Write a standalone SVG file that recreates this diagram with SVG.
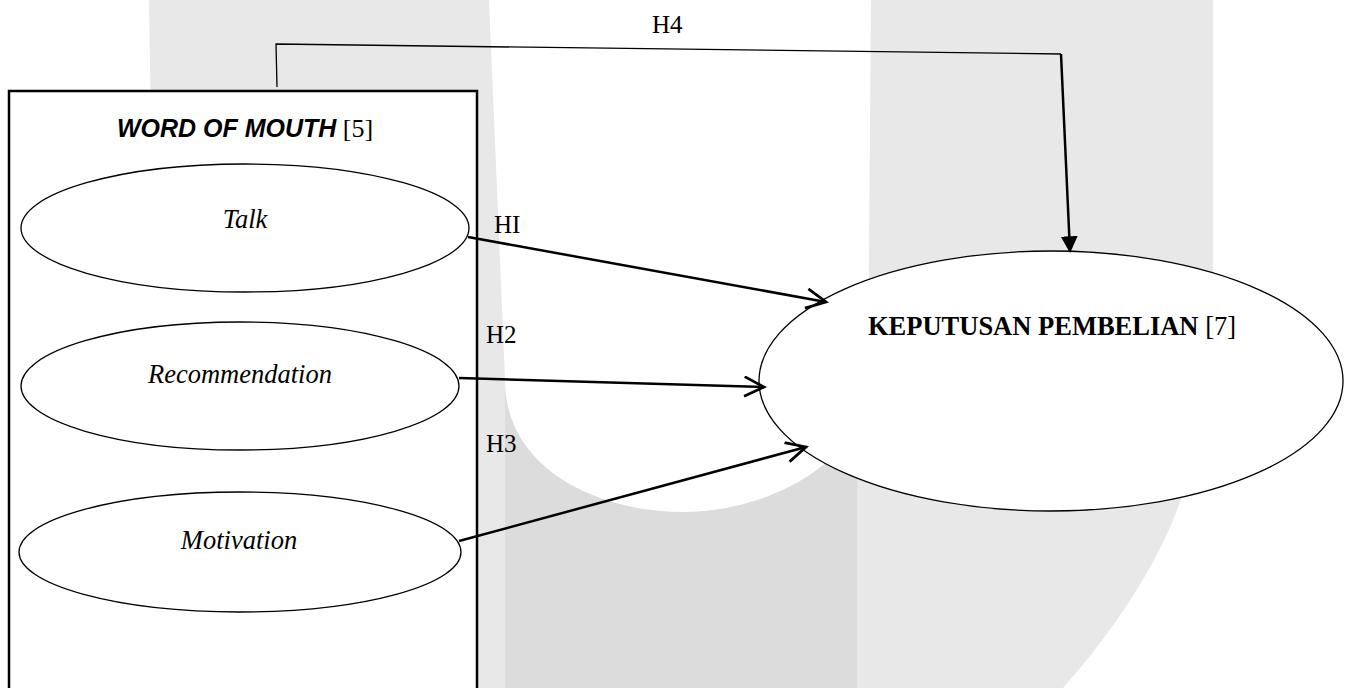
<svg xmlns="http://www.w3.org/2000/svg" width="1347" height="688" viewBox="0 0 1347 688">
  <style>
    .wm-light { fill: #e8e8e8; }
    .wm-dark { fill: #dcdcdc; }
    .node { fill: #ffffff; stroke: #000000; stroke-width: 1.3; }
    .box { fill: #ffffff; stroke: #000000; stroke-width: 2.5; }
    .serif { font-family: "Liberation Serif", "Times New Roman", serif; fill: #000000; }
    .it { font-style: italic; font-size: 26.5px; }
    .lbl { font-size: 25px; }
    .conn { fill: none; stroke: #000000; stroke-width: 2.5; }
    .thin { fill: none; stroke: #000000; stroke-width: 1.3; }
  </style>
  <defs>
    <marker id="open" markerUnits="userSpaceOnUse" markerWidth="24" markerHeight="24" viewBox="0 0 22 22" refX="19" refY="10" orient="auto">
      <path d="M1,1 L19,10 L1,19" fill="none" stroke="#000000" stroke-width="2.5"/>
    </marker>
    <marker id="filled" markerUnits="userSpaceOnUse" markerWidth="18" markerHeight="18" viewBox="0 0 16 16" refX="14" refY="7.5" orient="auto">
      <path d="M0,0 L15,7.5 L0,15 Z" fill="#000000"/>
    </marker>
  </defs>

  <rect width="1347" height="688" fill="#ffffff"/>

  <g id="watermark">
    <path class="wm-light" d="M149,0 L1213,0 L1213,300 C1213,400 1195,470 1180,502 C1160,560 1115,630 1063,688 L160,688 Z"/>
    <rect class="wm-dark" x="505" y="370" width="352" height="318"/>
    <path fill="#ffffff" d="M489,0 L871,0 L868,380 C868,460 770,512 683,512 C600,512 505,470 505,380 Z"/>
  </g>

  <g id="word-of-mouth">
    <rect class="box" x="9" y="91" width="468" height="620"/>
    <text x="245" y="137" text-anchor="middle" class="serif"><tspan font-family="'Liberation Sans', Arial, sans-serif" font-weight="bold" font-style="italic" font-size="25">WORD OF MOUTH</tspan><tspan font-size="26"> [5]</tspan></text>
  </g>

  <g id="talk">
    <ellipse class="node" cx="245" cy="228" rx="224" ry="64"/>
    <text x="245" y="228" text-anchor="middle" class="serif it">Talk</text>
  </g>

  <g id="recommendation">
    <ellipse class="node" cx="240" cy="386" rx="219" ry="64"/>
    <text x="240" y="383" text-anchor="middle" class="serif it">Recommendation</text>
  </g>

  <g id="motivation">
    <ellipse class="node" cx="240" cy="552" rx="221" ry="60"/>
    <text x="239" y="549" text-anchor="middle" class="serif it">Motivation</text>
  </g>

  <g id="keputusan-pembelian">
    <ellipse class="node" cx="1051" cy="381" rx="292" ry="130"/>
    <text x="1052" y="335" text-anchor="middle" class="serif" font-size="26.5"><tspan font-weight="bold">KEPUTUSAN PEMBELIAN</tspan> [7]</text>
  </g>

  <g id="connectors">
    <polyline class="thin" points="277,87 276,44 1061,54"/>
    <line class="conn" x1="1061" y1="54" x2="1070" y2="252" stroke-width="2" marker-end="url(#filled)"/>
    <line class="conn" x1="468" y1="237" x2="826" y2="302" marker-end="url(#open)"/>
    <line class="conn" x1="459" y1="378" x2="764" y2="387" marker-end="url(#open)"/>
    <line class="conn" x1="459" y1="541" x2="806" y2="447" marker-end="url(#open)"/>
  </g>

  <g id="labels">
    <text x="652" y="33" class="serif lbl">H4</text>
    <text x="494" y="233" class="serif lbl">HI</text>
    <text x="486" y="343" class="serif lbl">H2</text>
    <text x="486" y="452" class="serif lbl">H3</text>
  </g>
</svg>
